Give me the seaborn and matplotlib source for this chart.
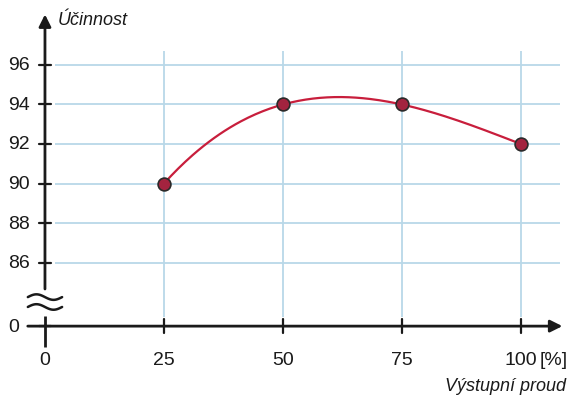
import numpy as np
import pandas as pd
import seaborn as sns
import matplotlib.pyplot as plt

# data
proud = [25, 50, 75, 100]          # Výstupní proud [%]
ucinnost = [90, 94, 94, 92]        # Účinnost
y_ticks = [86, 88, 90, 92, 94, 96]
x_ticks = [0, 25, 50, 75, 100]

# where the "0" of the broken y axis sits (below the break)
Y_ZERO = 82.78

sns.set_theme(style="white")
plt.rcParams['font.family'] = ['Liberation Sans', 'DejaVu Sans']

fig = plt.figure(figsize=(5.68, 4.02), dpi=100)
ax = fig.add_axes([0, 0, 1, 1])
ax.set_xlim(-9.45, 109.9)
ax.set_ylim(78.99, 99.34)

grid_col = '#b9d8e8'
# grid
ax.hlines(y_ticks, 2.1, 108.2, color=grid_col, lw=1.3, zorder=1)
ax.vlines(x_ticks[1:], 83.25, 96.7, color=grid_col, lw=1.3, zorder=1)

# smooth curve through the measured points
coef = np.polyfit(proud, ucinnost, 3)
xs = np.linspace(proud[0], proud[-1], 200)
curve = pd.DataFrame({'x': xs, 'y': np.polyval(coef, xs)})
sns.lineplot(data=curve, x='x', y='y', ax=ax, color='#c81e3c', lw=1.6, zorder=3)

pts = pd.DataFrame({'proud': proud, 'ucinnost': ucinnost})
sns.scatterplot(data=pts, x='proud', y='ucinnost', ax=ax, s=85, color='#a3233f',
                edgecolor='#2a2a2a', linewidth=1.2, zorder=4)
ax.axis('off')

# axes with arrows
ax.annotate('', xy=(109.3, Y_ZERO), xytext=(-4.2, Y_ZERO),
            arrowprops=dict(arrowstyle='-|>', color='#1a1a1a', lw=2, mutation_scale=18))
ax.plot([0, 0], [Y_ZERO - 1.05, 83.29], color='#1a1a1a', lw=2, solid_capstyle='butt')
ax.annotate('', xy=(0, 98.7), xytext=(0, 84.66),
            arrowprops=dict(arrowstyle='-|>', color='#1a1a1a', lw=2, mutation_scale=18,
                            shrinkA=0))

# break mark
wx = np.linspace(-3.6, 3.6, 50)
for off in (84.25, 83.75):
    ax.plot(wx, off + 0.14 * np.sin(wx / 3.6 * np.pi + np.pi), color='#1a1a1a', lw=1.8)

# ticks
for t in y_ticks:
    ax.plot([-1.2, 1.2], [t, t], color='#1a1a1a', lw=1.6)
    ax.text(-3.2, t, str(t), ha='right', va='center', fontsize=14, color='#1a1a1a')
ax.plot([-1.2, 1.2], [Y_ZERO, Y_ZERO], color='#1a1a1a', lw=1.6)
ax.text(-5.5, Y_ZERO, '0', ha='right', va='center', fontsize=14, color='#1a1a1a')
for t in x_ticks[1:]:
    ax.plot([t, t], [Y_ZERO - 0.35, Y_ZERO + 0.35], color='#1a1a1a', lw=1.6)
for t in x_ticks:
    ax.text(t, Y_ZERO - 1.7, str(t), ha='center', va='center', fontsize=14, color='#1a1a1a')
ax.text(106.8, Y_ZERO - 1.7, '[%]', ha='center', va='center', fontsize=14, color='#1a1a1a')

ax.text(2.7, 98.3, 'Účinnost', ha='left', va='center', fontsize=13,
        style='italic', color='#1a1a1a')
ax.text(109.4, 79.75, 'Výstupní proud', ha='right', va='center', fontsize=13,
        style='italic', color='#1a1a1a')

fig.savefig('out.png', dpi=100)
